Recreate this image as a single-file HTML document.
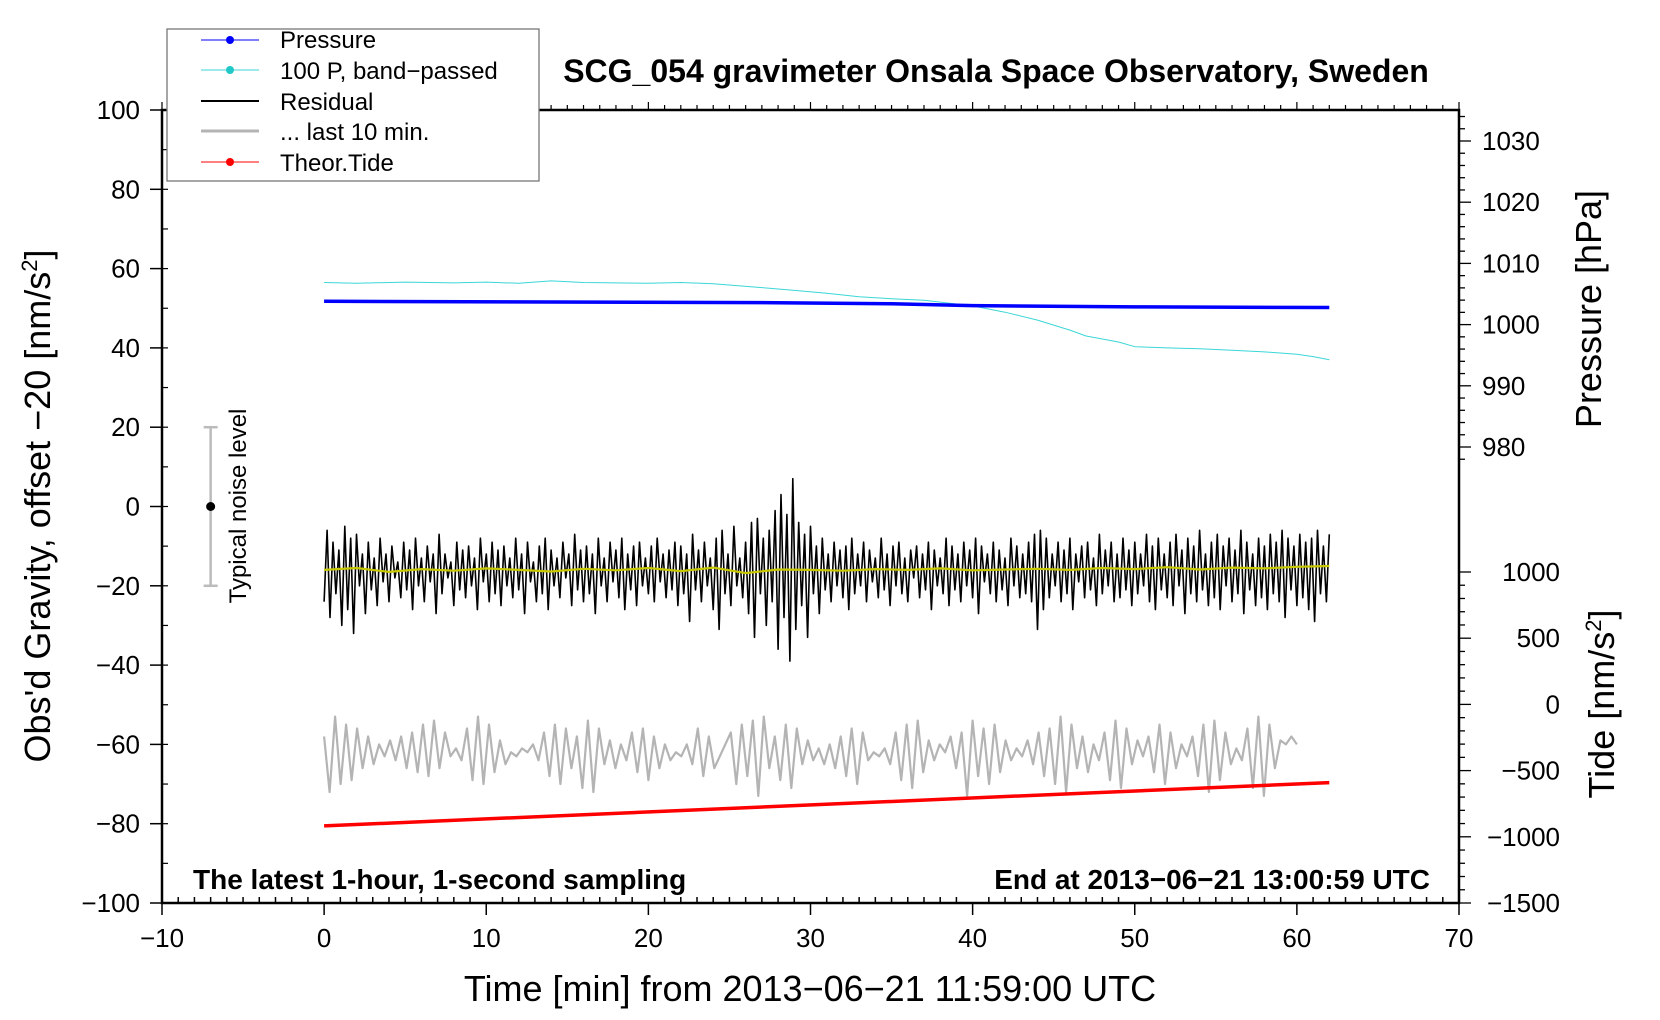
<!DOCTYPE html>
<html><head><meta charset="utf-8">
<style>
html,body{margin:0;padding:0;background:#fff;}
svg{display:block;font-family:"Liberation Sans",sans-serif;}
</style></head>
<body>
<svg id="chart" width="1660" height="1020" viewBox="0 0 1660 1020" xmlns="http://www.w3.org/2000/svg">
</svg>
<script>
// ---- data ----
const xTicks = [-10,0,10,20,30,40,50,60,70];
const leftTicks = [100,80,60,40,20,0,-20,-40,-60,-80,-100];
const pressTicks = [1030,1020,1010,1000,990,980];
const tideTicks = [1000,500,0,-500,-1000,-1500];

const pressTime = [0,27,35,40,50,62];
const pressVal = [1003.8,1003.6,1003.4,1003.1,1002.9,1002.8];

const bandTime = [0,2,5,8,10,12,14,16,20,22,24,27,29,31,33,35,37,40,42,44,46,47,49,50,52,54,56,58,60,61,62];
const bandVal = [56.5,56.3,56.6,56.4,56.6,56.3,56.9,56.5,56.3,56.5,56.2,55.2,54.5,53.8,52.9,52.4,52.0,50.6,49.0,47.0,44.5,43.0,41.5,40.3,40.0,39.8,39.4,39.0,38.4,37.8,37.0];

const residual = [-24,-6,-28,-9,-22,-11,-30,-5,-26,-8,-32,-7,-20,-12,-27,-9,-21,-13,-25,-8,-19,-12,-24,-10,-18,-14,-23,-9,-21,-11,
-26,-8,-20,-13,-24,-10,-19,-12,-27,-7,-22,-12,-18,-14,-25,-9,-21,-11,-23,-10,-20,-13,-26,-8,-19,-12,-24,-9,-22,-11,
-25,-10,-20,-13,-23,-8,-21,-12,-27,-9,-19,-14,-24,-10,-22,-8,-26,-11,-20,-13,-23,-9,-18,-12,-25,-7,-21,-11,-24,-10,
-22,-12,-27,-8,-20,-13,-24,-9,-19,-11,-23,-8,-26,-12,-21,-10,-25,-9,-20,-13,-22,-10,-24,-8,-19,-12,-23,-11,-21,-9,
-25,-10,-22,-12,-29,-7,-21,-11,-24,-9,-20,-13,-26,-8,-31,-6,-22,-12,-25,-5,-20,-13,-23,-9,-27,-4,-33,-3,-22,-8,
-30,-6,-24,-1,-36,3,-28,-2,-39,7,-31,-4,-25,-7,-33,-5,-22,-10,-27,-8,-21,-12,-24,-9,-20,-11,-23,-10,-26,-8,
-22,-12,-20,-9,-24,-11,-19,-13,-23,-8,-21,-12,-25,-10,-20,-9,-22,-13,-24,-11,-18,-10,-23,-12,-21,-9,-26,-11,-20,-13,
-22,-8,-25,-10,-21,-12,-24,-9,-20,-11,-23,-8,-27,-10,-19,-12,-22,-9,-24,-11,-21,-13,-25,-8,-20,-10,-23,-12,-22,-9,
-24,-7,-31,-6,-26,-8,-23,-12,-20,-9,-24,-11,-22,-8,-26,-12,-19,-10,-23,-9,-21,-13,-25,-7,-22,-11,-20,-9,-24,-12,
-23,-8,-21,-11,-25,-9,-22,-12,-20,-7,-24,-10,-26,-8,-21,-12,-23,-9,-25,-7,-20,-11,-27,-8,-22,-10,-24,-6,-21,-12,
-25,-9,-23,-7,-26,-10,-20,-8,-24,-11,-22,-6,-27,-9,-21,-12,-25,-8,-23,-10,-26,-7,-22,-9,-24,-6,-28,-8,-21,-10,
-25,-7,-23,-9,-26,-8,-29,-6,-22,-10,-24,-7];

const smooth = [-16,-15.5,-16.5,-15.8,-16.2,-15.6,-16,-16.4,-15.7,-16.1,-15.5,-16.3,-15.4,-16.8,-15.9,-16,-16.2,-15.8,-16,-15.6,-16.1,-15.9,-15.7,-16,-15.5,-15.8,-15.3,-15.9,-15.4,-15.6,-15.2,-15];

const last10 = [-58,-72,-53,-70,-55,-69,-56,-66,-58,-65,-60,-63,-59,-64,-58,-66,-57,-67,-55,-68,-54,-66,-57,-63,-61,-64,-56,-69,-53,-70,
-55,-67,-59,-65,-62,-63,-61,-62,-60,-64,-57,-68,-55,-70,-56,-66,-58,-71,-54,-72,-56,-65,-59,-66,-60,-64,-57,-67,-56,-69,
-58,-66,-60,-64,-62,-63,-60,-65,-56,-68,-58,-66,-63,-60,-57,-70,-55,-68,-54,-73,-53,-66,-58,-69,-55,-71,-56,-65,-59,-64,
-61,-65,-60,-66,-58,-68,-56,-70,-57,-64,-62,-63,-61,-65,-57,-69,-55,-71,-54,-67,-59,-64,-60,-62,-58,-66,-57,-73,-54,-68,
-56,-70,-55,-67,-59,-64,-61,-63,-59,-65,-57,-68,-56,-70,-53,-72,-55,-66,-58,-67,-60,-64,-57,-69,-54,-71,-56,-65,-59,-63,
-58,-67,-55,-70,-57,-66,-60,-63,-58,-68,-55,-72,-54,-69,-57,-65,-61,-64,-56,-71,-53,-73,-55,-66,-59,-60,-58,-60];

const tideTime = [0,62];
const tideVal = [-918,-591];

// ---- scales ----
const X = t => 162 + (t + 10) * 16.2125;
const YL = v => 110 + (100 - v) * 3.965;
const YP = p => 141 + (1030 - p) * 6.12;
const YT = v => 572 + (1000 - v) * 0.1324;

const svg = document.getElementById('chart');
const NS = 'http://www.w3.org/2000/svg';
function mk(tag, attrs, parent){
  const e = document.createElementNS(NS, tag);
  for (const k in attrs) e.setAttribute(k, attrs[k]);
  (parent||svg).appendChild(e);
  return e;
}
function txt(s, attrs, parent){ const e = mk('text', attrs, parent); e.textContent = s; return e; }

function poly(xs, ys, stroke, w, name){
  const pts = xs.map((x,i)=>x.toFixed(1)+','+ys[i].toFixed(1)).join(' ');
  const e = mk('polyline', {points:pts, fill:'none', stroke:stroke, 'stroke-width':w, 'stroke-linejoin':'round'});
  
  
  return e;
}
poly(bandTime.map(X), bandVal.map(YL), '#3cd6d6', 1, 'band-passed-pressure-line');
poly(pressTime.map(X), pressVal.map(YP), '#0000ff', 3.5, 'pressure-line');
poly(residual.map((v,i)=>X(i*62/(residual.length-1))), residual.map(YL), '#000', 1.6, 'residual-line');
poly(smooth.map((v,i)=>X(i*62/(smooth.length-1))), smooth.map(YL), '#c8c800', 2.2, 'residual-smoothed-line');
poly(last10.map((v,i)=>X(i*60/(last10.length-1))), last10.map(YL), '#b4b4b4', 2.2, 'last-10-min-line');
poly(tideTime.map(X), tideVal.map(YT), '#ff0000', 3.5, 'theoretical-tide-line');

const L = X(-10), R = X(70), T = YL(100), B = YL(-100);
const frame = mk('rect', {x:L, y:T, width:R-L, height:B-T, fill:'none', stroke:'#000', 'stroke-width':2.5});



for (let t=-10; t<=70; t++){
  const major = t % 10 === 0;
  mk('line', {x1:X(t), x2:X(t), y1:B, y2:B+(major?12:-6), stroke:'#000', 'stroke-width':1.5});
  mk('line', {x1:X(t), x2:X(t), y1:T, y2:T-(major?8:5), stroke:'#000', 'stroke-width':1.2});
}
xTicks.forEach(t=>{
  const e = txt(String(t).replace('-','\u2212'), {x:X(t), y:947, 'font-size':26, 'text-anchor':'middle'});
  
  
});
for (let v=-100; v<=100; v+=10){
  const major = v % 20 === 0;
  mk('line', {x1:L, x2:L-(major?12:0), y1:YL(v), y2:YL(v), stroke:'#000', 'stroke-width':1.5});
  mk('line', {x1:L, x2:L+6, y1:YL(v), y2:YL(v), stroke:'#000', 'stroke-width':1.2});
}
leftTicks.forEach(v=>{
  const e = txt(String(v).replace('-','\u2212'), {x:140, y:YL(v)+9, 'font-size':26, 'text-anchor':'end'});
  
  
});
for (let p=978; p<=1034; p+=2){
  const major = p % 10 === 0;
  mk('line', {x1:R, x2:R+(major?12:6), y1:YP(p), y2:YP(p), stroke:'#000', 'stroke-width':1.3});
}
pressTicks.forEach(p=>{
  const e = txt(String(p), {x:1482, y:YP(p)+9, 'font-size':26});
  
  
});
for (let v=-1500; v<=1000; v+=100){
  const major = v % 500 === 0;
  mk('line', {x1:R, x2:R+(major?12:6), y1:YT(v), y2:YT(v), stroke:'#000', 'stroke-width':1.3});
}
tideTicks.forEach(v=>{
  const e = txt(String(v).replace('-','\u2212'), {x:1560, y:YT(v)+9, 'font-size':26, 'text-anchor':'end'});
  
  
});

const nx = X(-7);
mk('line', {x1:nx, x2:nx, y1:YL(20), y2:YL(-20), stroke:'#bbb', 'stroke-width':2.5});
mk('line', {x1:nx-7, x2:nx+7, y1:YL(20), y2:YL(20), stroke:'#bbb', 'stroke-width':2.5});
mk('line', {x1:nx-7, x2:nx+7, y1:YL(-20), y2:YL(-20), stroke:'#bbb', 'stroke-width':2.5});
mk('circle', {cx:nx, cy:YL(0), r:4.5, fill:'#000'});
</script>
<svg style="position:absolute;left:0;top:0" width="1660" height="1020" viewBox="0 0 1660 1020" xmlns="http://www.w3.org/2000/svg" font-family="Liberation Sans, sans-serif">
  <text transform="translate(246,506) rotate(-90)" font-size="24" text-anchor="middle">Typical noise level</text>
  <text x="996" y="82" font-size="32" font-weight="bold" text-anchor="middle">SCG_054 gravimeter Onsala Space Observatory, Sweden</text>
  <text x="810" y="1001" font-size="36" text-anchor="middle">Time [min] from 2013−06−21 11:59:00 UTC</text>
  <text transform="translate(50,506) rotate(-90)" font-size="36" text-anchor="middle">Obs'd Gravity, offset −20 [nm/s<tspan font-size="22" dy="-13">2</tspan><tspan dy="13">]</tspan></text>
  <text transform="translate(1601,309) rotate(-90)" font-size="36" text-anchor="middle">Pressure [hPa]</text>
  <text transform="translate(1614,704) rotate(-90)" font-size="36" text-anchor="middle">Tide [nm/s<tspan font-size="22" dy="-13">2</tspan><tspan dy="13">]</tspan></text>
  <text x="193" y="889" font-size="28" font-weight="bold">The latest 1-hour, 1-second sampling</text>
  <text x="1430" y="889" font-size="28" font-weight="bold" text-anchor="end">End at 2013−06−21 13:00:59 UTC</text>
  <g>
    <rect x="167" y="29" width="372" height="152" fill="#fff" stroke="#777" stroke-width="1.3"/>
    <line x1="201" x2="259" y1="40" y2="40" stroke="#0000ff" stroke-width="1"/><circle cx="230" cy="40" r="4" fill="#0000ff"/>
    <text x="280" y="48" font-size="24">Pressure</text>
    <line x1="201" x2="259" y1="70" y2="70" stroke="#3cd6d6" stroke-width="1"/><circle cx="230" cy="70" r="4" fill="#20c8c8"/>
    <text x="280" y="79" font-size="24">100 P, band−passed</text>
    <line x1="201" x2="259" y1="101" y2="101" stroke="#000" stroke-width="2"/>
    <text x="280" y="110" font-size="24">Residual</text>
    <line x1="201" x2="259" y1="131" y2="131" stroke="#b4b4b4" stroke-width="3"/>
    <text x="280" y="140" font-size="24">... last 10 min.</text>
    <line x1="201" x2="259" y1="162" y2="162" stroke="#ff0000" stroke-width="1"/><circle cx="230" cy="162" r="4" fill="#ff0000"/>
    <text x="280" y="171" font-size="24">Theor.Tide</text>
  </g>
</svg>
</body></html>
